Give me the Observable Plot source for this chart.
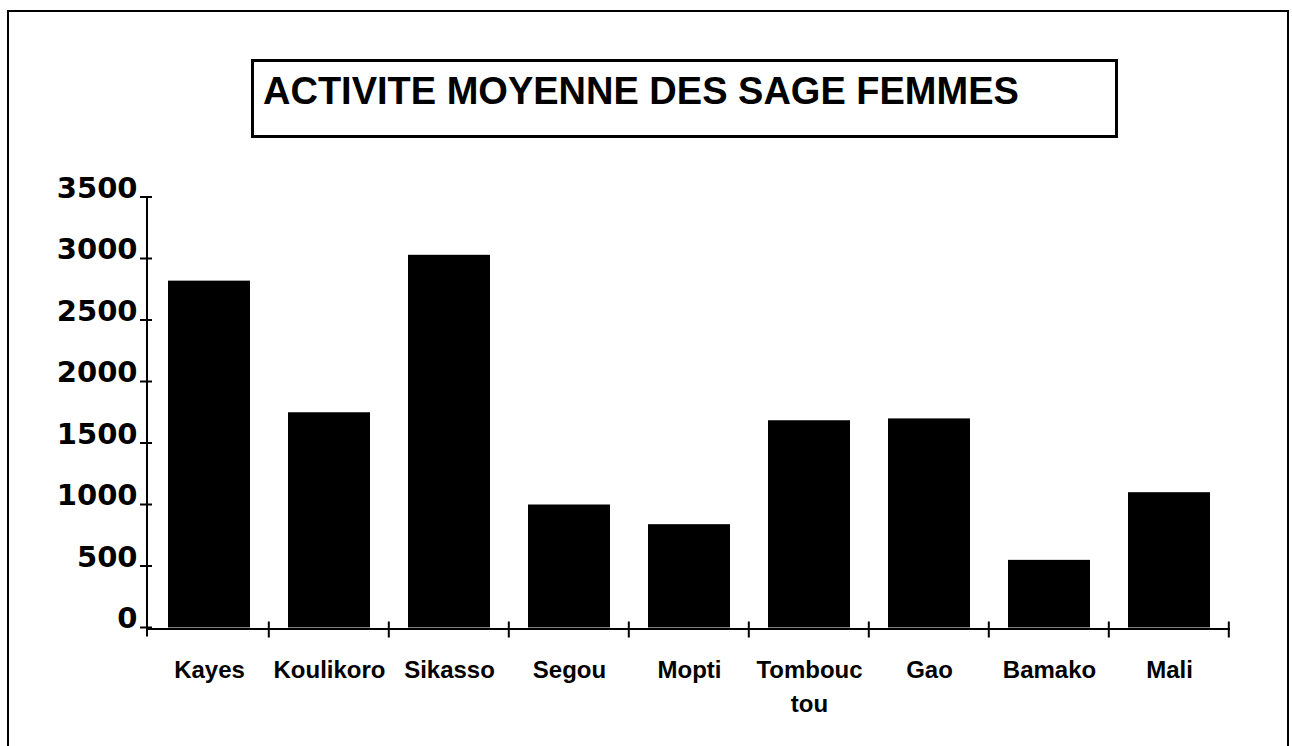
<!DOCTYPE html>
<html>
<head>
<meta charset="utf-8">
<script src="https://cdn.jsdelivr.net/npm/d3@7"></script>
<script src="https://cdn.jsdelivr.net/npm/@observablehq/plot@0.6"></script>
<style>
  html, body { margin: 0; padding: 0; background: #fff; overflow: hidden; }
  #page { position: relative; width: 1292px; height: 746px; overflow: hidden; background: #fff; }
  #chart { position: absolute; left: 0; top: 0; }
  #frame { position: absolute; left: 7px; top: 10px; width: 1278px; height: 800px;
           border: 2px solid #000; border-bottom: none; pointer-events: none; }
  #titlebox { position: absolute; left: 251px; top: 59px; width: 861px; height: 73px;
              border: 3px solid #000; background: #fff; }
  #title { position: absolute; left: 9px; top: 10px; margin: 0; white-space: nowrap;
           font-family: "Liberation Sans", Arial, sans-serif; font-weight: bold;
           font-size: 38px; line-height: 38px; color: #000; }
</style>
</head>
<body>
<div id="page">
  <div id="chart"></div>
  <div id="frame"></div>
  <div id="titlebox"><h1 id="title">ACTIVITE MOYENNE DES SAGE FEMMES</h1></div>
</div>
<script>
// Data
const regions = ["Kayes", "Koulikoro", "Sikasso", "Segou", "Mopti", "Tombouctou", "Gao", "Bamako", "Mali"];
const regionLabels = ["Kayes", "Koulikoro", "Sikasso", "Segou", "Mopti", "Tombouc\ntou", "Gao", "Bamako", "Mali"];
const activite = [2820, 1750, 3030, 1000, 840, 1685, 1700, 550, 1100];
const yTicks = [0, 500, 1000, 1500, 2000, 2500, 3000, 3500];

const data = regions.map((r, i) => ({region: r, value: activite[i]}));
const labelOf = new Map(regions.map((r, i) => [r, regionLabels[i]]));

const PAD_INNER = 0.32;

function axesMark(index, scales, values, dimensions) {
  const {x, y} = scales;
  const {width, marginLeft, marginRight} = dimensions;
  const g = d3.create("svg:g").attr("stroke", "#000").attr("fill", "none");
  const y0 = y(0);
  const yTop = y(d3.max(yTicks));
  const step = x(regions[1]) - x(regions[0]);
  // y axis line
  g.append("line").attr("x1", marginLeft).attr("x2", marginLeft)
    .attr("y1", yTop).attr("y2", y0 + 9).attr("stroke-width", 2);
  // y ticks (crossing)
  for (const t of yTicks) {
    g.append("line").attr("x1", marginLeft - 7).attr("x2", marginLeft + 5)
      .attr("y1", y(t)).attr("y2", y(t)).attr("stroke-width", 2);
  }
  // x axis line
  const xEnd = width - marginRight;
  g.append("line").attr("x1", marginLeft).attr("x2", xEnd)
    .attr("y1", y0 + 1.5).attr("y2", y0 + 1.5).attr("stroke-width", 2);
  // x ticks at category boundaries
  const bounds = regions.map(r => x(r) - step * PAD_INNER / 2);
  bounds.push(bounds[bounds.length - 1] + step);
  bounds.slice(1).forEach(b => {
    g.append("line").attr("x1", b).attr("x2", b)
      .attr("y1", y0 - 6).attr("y2", y0 + 10).attr("stroke-width", 2);
  });
  return g.node();
}

const chart = Plot.plot({
  width: 1292,
  height: 746,
  marginLeft: 147,
  marginRight: 62,
  marginTop: 197,
  marginBottom: 118.5,
  style: {background: "transparent", color: "#000"},
  x: {domain: regions, paddingInner: PAD_INNER, paddingOuter: PAD_INNER / 2, axis: null},
  y: {domain: [0, 3500], axis: null},
  marks: [
    Plot.barY(data, {x: "region", y: "value", fill: "#000"}),
    Plot.axisX({
      tickSize: 0, tickPadding: 26, fontSize: 24, fontWeight: "bold",
      fontFamily: "Liberation Sans, Arial, sans-serif", lineHeight: 1.42,
      tickFormat: d => labelOf.get(d), label: null
    }),
    Plot.axisY(yTicks, {
      tickSize: 0, tickPadding: 10, fontSize: 29, fontWeight: "bold",
      fontFamily: "DejaVu Sans, sans-serif", lineAnchor: "bottom",
      tickFormat: d => String(d), label: null
    }),
    axesMark
  ]
});
document.getElementById("chart").appendChild(chart);
</script>
</body>
</html>
